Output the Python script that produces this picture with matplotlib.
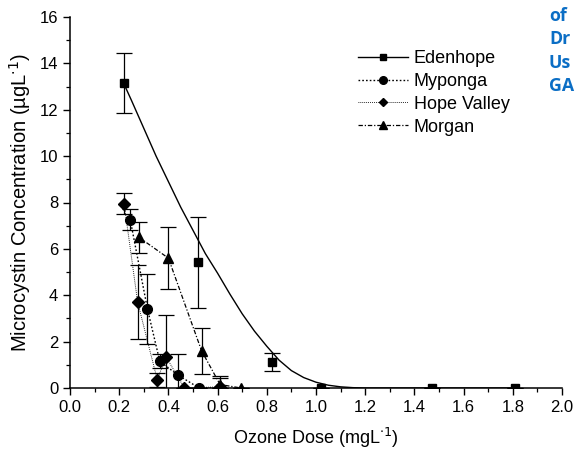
"""Microcystin concentration vs ozone dose for four source waters."""

import matplotlib

matplotlib.use("Agg")
import matplotlib.pyplot as plt
from matplotlib.lines import Line2D
from matplotlib.ticker import MultipleLocator, FormatStrFormatter

plt.rcParams["font.family"] = ["Liberation Sans", "DejaVu Sans"]

# measured points (x = ozone dose, y = concentration, e = +/- error)
eden_x = [0.22, 0.52, 0.82, 1.02, 1.47, 1.81]
eden_y = [13.15, 5.42, 1.13, 0.0, 0.02, 0.0]
eden_e = [1.3, 1.97, 0.4, 0.0, 0.0, 0.0]

# fitted Edenhope curve
eden_fit_x = [0.22, 0.25, 0.30, 0.35, 0.40, 0.45, 0.50, 0.55, 0.60, 0.65, 0.70,
              0.75, 0.80, 0.85, 0.90, 0.95, 1.00, 1.05, 1.10, 1.15, 1.20, 1.81]
eden_fit_y = [13.1, 12.4, 11.2, 10.0, 8.9, 7.8, 6.8, 5.8, 4.95, 4.05, 3.2,
              2.45, 1.8, 1.2, 0.75, 0.45, 0.25, 0.12, 0.05, 0.015, 0.0, 0.0]

myp_x = [0.245, 0.315, 0.365, 0.44, 0.525, 0.61]
myp_y = [7.25, 3.4, 1.15, 0.55, 0.0, 0.0]
myp_e = [0.45, 1.5, 0.3, 0.9, 0.0, 0.0]

hope_x = [0.22, 0.275, 0.355, 0.39, 0.465, 0.61]
hope_y = [7.95, 3.7, 0.35, 1.35, 0.0, 0.05]
hope_e = [0.45, 1.6, 0.3, 1.8, 0.0, 0.45]

morg_x = [0.28, 0.40, 0.535, 0.61, 0.695]
morg_y = [6.5, 5.6, 1.6, 0.15, 0.0]
morg_e = [0.67, 1.35, 1.0, 0.3, 0.0]

names = ["Edenhope", "Myponga", "Hope Valley", "Morgan"]
side_text = ["of", "Dr", "Us", "GA"]

fig = plt.figure(figsize=(5.75, 4.49), dpi=100)
ax = fig.add_axes([70 / 575, 61 / 449, 492 / 575, 371 / 449])

eb = dict(fmt="none", ecolor="black", elinewidth=0.9, capsize=6, capthick=0.9)
ax.errorbar(eden_x, eden_y, yerr=eden_e, **eb)
ax.errorbar(myp_x, myp_y, yerr=myp_e, **eb)
ax.errorbar(hope_x, hope_y, yerr=hope_e, **eb)
ax.errorbar(morg_x, morg_y, yerr=morg_e, **eb)

styles = [
    dict(ls="-", lw=1.0, marker="s"),
    dict(ls=(0, (1.2, 1.5)), lw=1.0, marker="o"),
    dict(ls=(0, (0.8, 1.2)), lw=0.7, marker="D"),
    dict(ls=(0, (3.5, 1.5, 1, 1.5)), lw=0.9, marker="^"),
]
msizes = [6, 7, 6, 7]

ax.plot(eden_fit_x, eden_fit_y, color="black", ls="-", lw=1.0)
ax.plot(eden_x, eden_y, "s", color="black", ms=6)
ax.plot(myp_x, myp_y, color="black", ls=styles[1]["ls"], lw=1.0,
        marker="o", ms=7)
ax.plot(hope_x, hope_y, color="black", ls=styles[2]["ls"], lw=0.7,
        marker="D", ms=6)
ax.plot(morg_x, morg_y, color="black", ls=styles[3]["ls"], lw=0.9,
        marker="^", ms=7)

handles = [Line2D([], [], color="black", ls=s["ls"], lw=s["lw"],
                  marker=s["marker"], ms=m - 1.5)
           for s, m in zip(styles, msizes)]
ax.legend(handles, names, loc="upper left", bbox_to_anchor=(0.57, 0.93),
          frameon=False, fontsize=13, handlelength=2.8, handletextpad=0.3,
          labelspacing=0.32, borderaxespad=0)

ax.set_xlim(0, 2.0)
ax.set_ylim(0, 16)
ax.xaxis.set_major_locator(MultipleLocator(0.2))
ax.xaxis.set_minor_locator(MultipleLocator(0.1))
ax.yaxis.set_major_locator(MultipleLocator(2))
ax.yaxis.set_minor_locator(MultipleLocator(1))
ax.xaxis.set_major_formatter(FormatStrFormatter("%.1f"))
ax.tick_params(which="major", length=5, width=1.0, labelsize=12, direction="out")
ax.tick_params(which="minor", length=3, width=0.9, direction="out")
for side in ("top", "right"):
    ax.spines[side].set_visible(False)
for side in ("left", "bottom"):
    ax.spines[side].set_linewidth(1.1)

ax.set_xlabel("Ozone Dose (mgL$^{\\cdot1}$)", fontsize=13, labelpad=8)
ax.set_ylabel("Microcystin Concentration (\u00b5gL$^{\\cdot1}$)", fontsize=14.5,
              labelpad=5)

baselines = [21, 44.5, 67.5, 91]
for t, yb in zip(side_text, baselines):
    fig.text(549 / 575, 1 - yb / 449, t, color="#0b6ec5",
             fontsize=12.8, fontweight="bold", family=["Open Sans", "DejaVu Sans"],
             ha="left", va="baseline")

fig.savefig("out.png", dpi=100)
